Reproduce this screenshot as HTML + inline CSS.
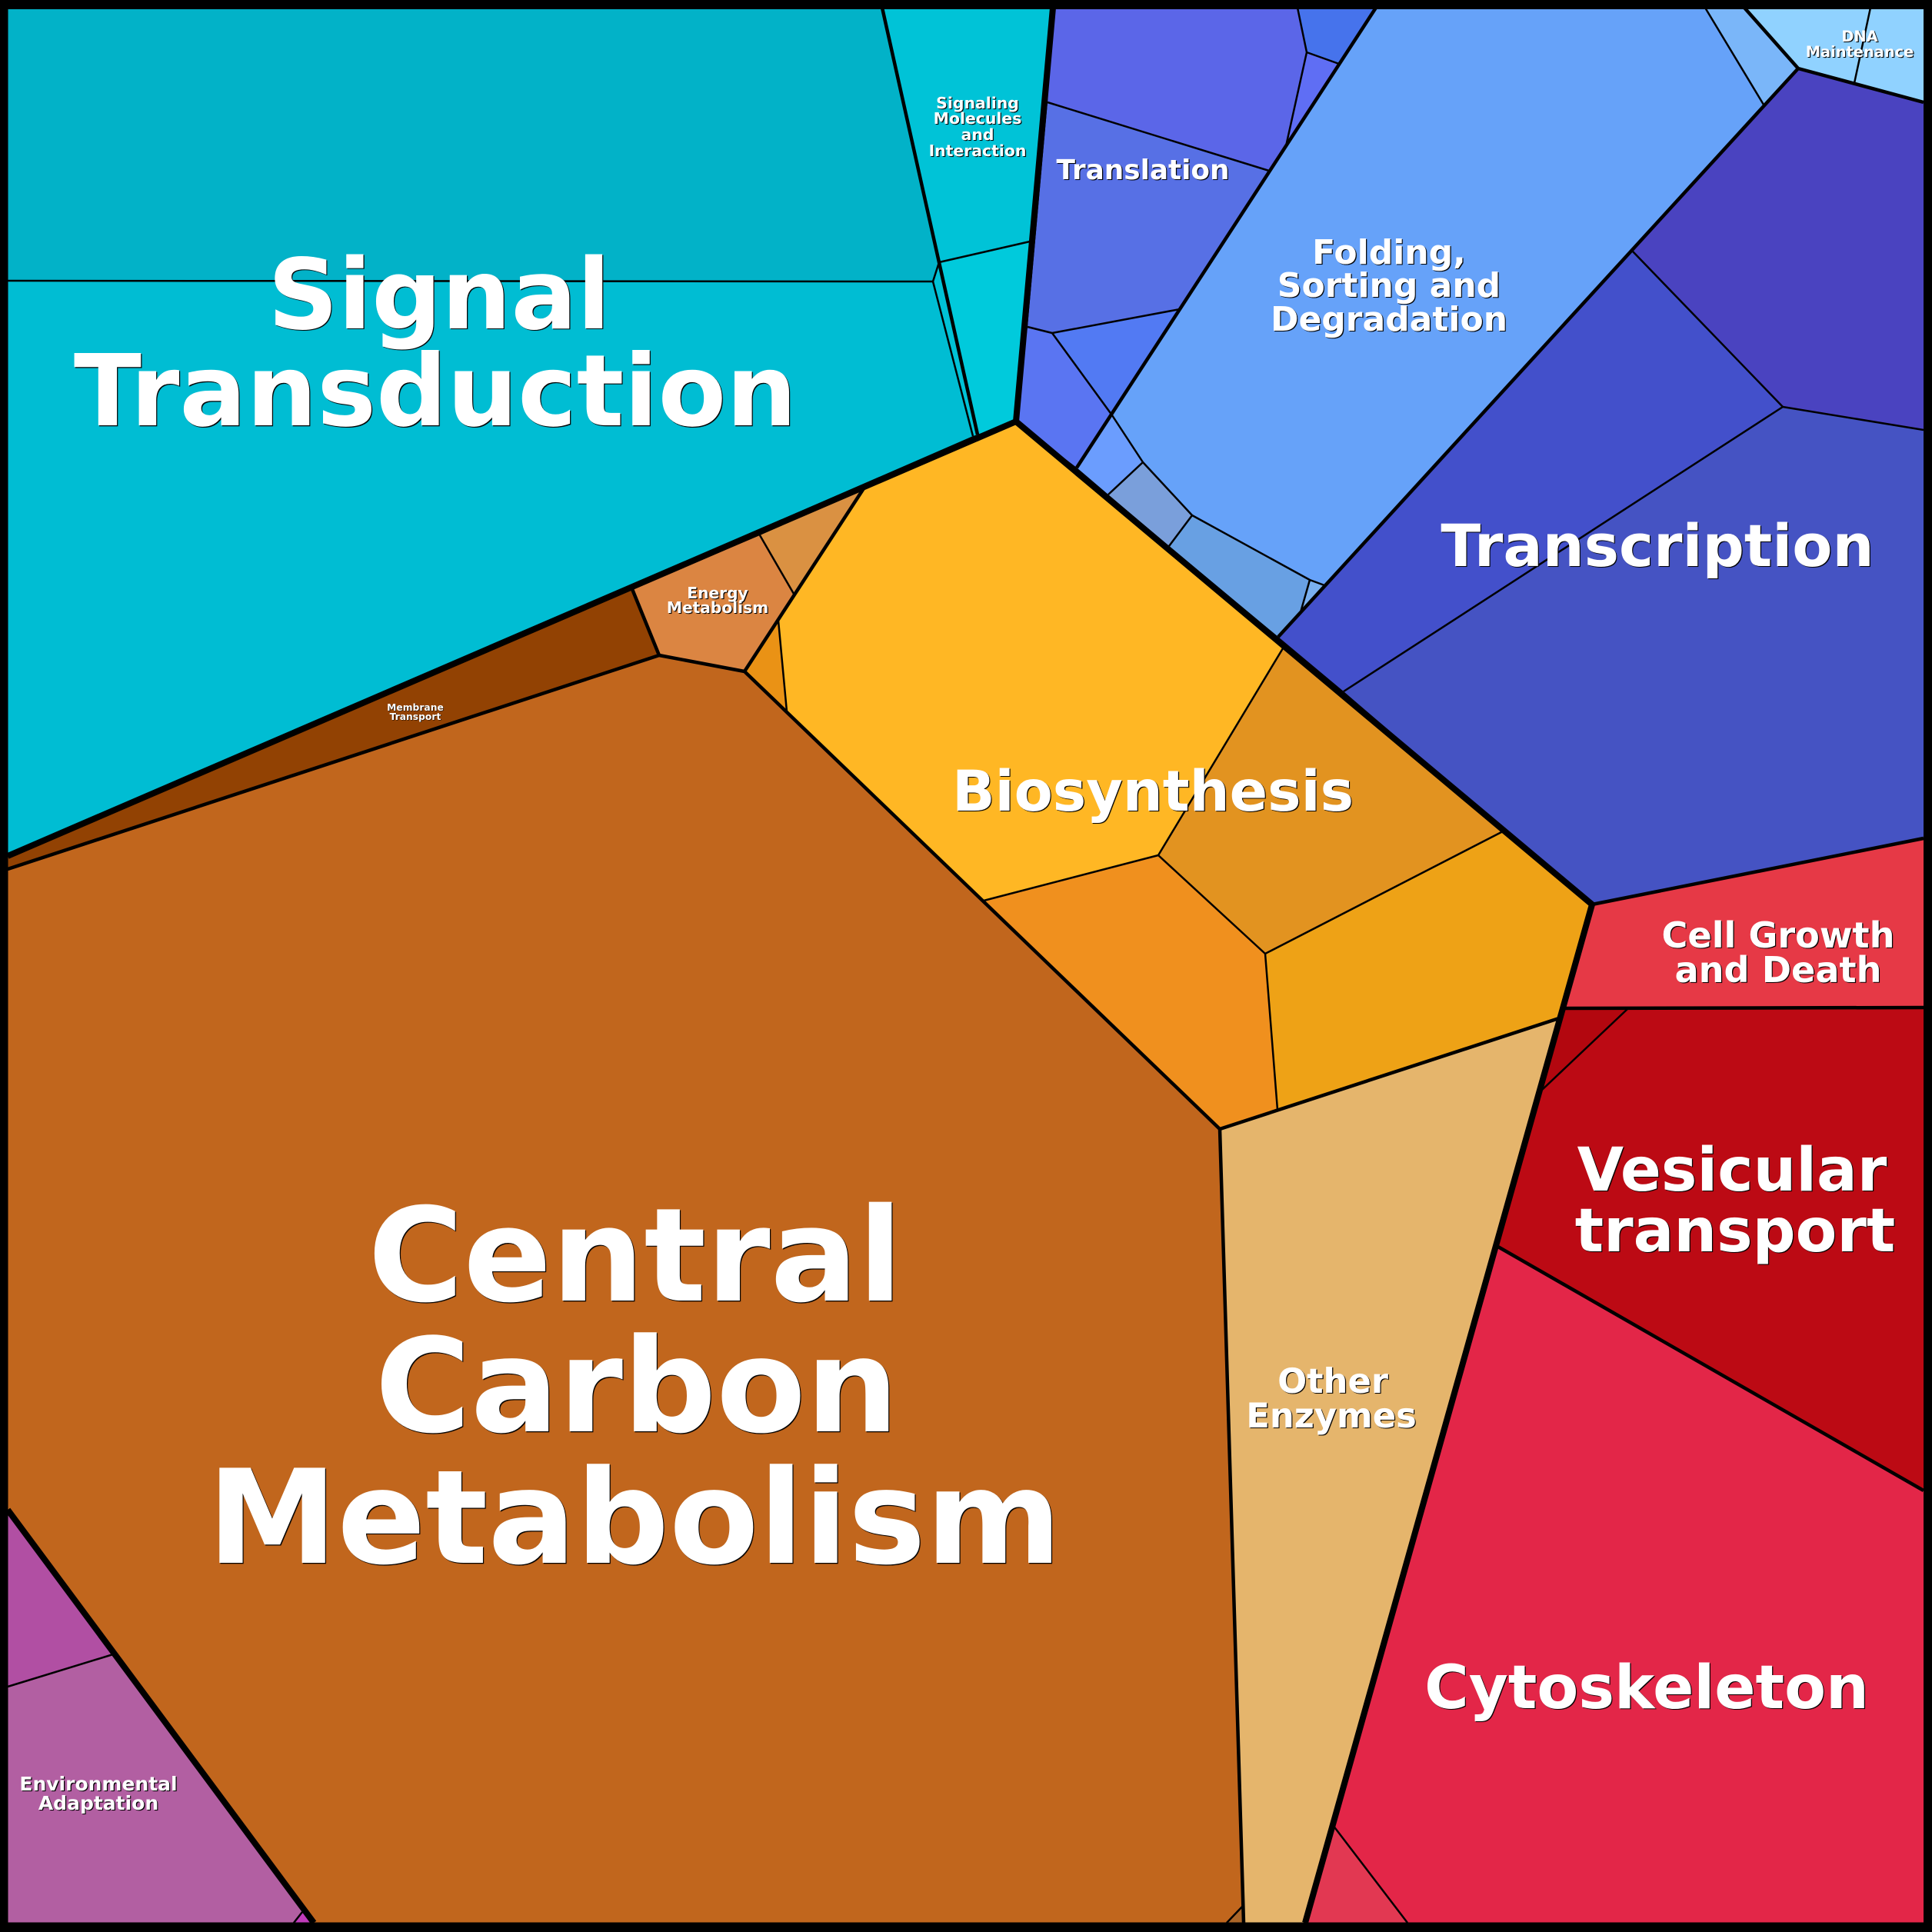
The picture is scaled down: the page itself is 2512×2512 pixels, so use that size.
<!DOCTYPE html>
<html><head><meta charset="utf-8"><style>
html,body{margin:0;padding:0;background:#000}
svg{display:block}
text{font-family:"DejaVu Sans","Liberation Sans",sans-serif;font-weight:700;fill:#fff;text-anchor:middle;text-shadow:1.2px 1.2px .5px #000}
.l3{fill:none;stroke:#000;stroke-width:2.5;stroke-linejoin:round}
.l2{fill:none;stroke:#000;stroke-width:4.5;stroke-linejoin:round}
.l1{fill:none;stroke:#000;stroke-width:8;stroke-linejoin:round}
</style></head><body>
<svg xmlns="http://www.w3.org/2000/svg" width="2512" height="2512" viewBox="0 0 2512 2512">
<rect width="2512" height="2512" fill="#000"/>
<!-- Signal Transduction -->
<polygon fill="#02B2C8" points="10,10 1147,10 1221,341 1213,366 10,365"/>
<polygon fill="#00BDD3" points="10,365 1213,366 1265,567 10,1113"/>
<polygon fill="#00C2D6" points="1221,341 1213,366 1265,567 1271,565"/>
<polygon fill="#00C3D7" points="1147,10 1369,10 1339,314 1221,341"/>
<polygon fill="#00CADC" points="1339,314 1221,341 1271,565 1321,548"/>
<!-- Metabolism -->
<polygon fill="#C1661D" points="10,1130 857,852 968,873 1586,1468 1617,2500 408,2500 10,1963"/>
<polygon fill="#AC6628" points="1617,2477 1617,2500 1595,2500"/>
<polygon fill="#924203" points="10,1113 822,766 857,852 10,1130"/>
<polygon fill="#DB8542" points="822,766 988,696 1032,772 968,873 857,852"/>
<polygon fill="#DA9142" points="988,696 1123,635 1032,772"/>
<polygon fill="#EA9215" points="968,873 1012,807 1023,925"/>
<polygon fill="#FFB724" points="1321,548 1123,635 1012,807 1023,925 1279,1171 1506,1112 1668,843"/>
<polygon fill="#E29320" points="1668,843 1506,1112 1645,1240 1954,1081"/>
<polygon fill="#F0901E" points="1279,1171 1506,1112 1645,1240 1661,1443 1586,1468"/>
<polygon fill="#EEA216" points="1954,1081 2070,1176 2030,1323 1661,1443 1645,1240"/>
<polygon fill="#E5B56C" points="1586,1468 2030,1323 1697,2500 1617,2500"/>
<!-- Genetic -->
<polygon fill="#5B66E8" points="1369,10 1687,10 1699,68 1672,190 1650,222 1362,133"/>
<polygon fill="#4673EC" points="1687,10 1789,10 1741,83 1699,68"/>
<polygon fill="#5F6EF4" points="1699,68 1741,83 1672,190"/>
<polygon fill="#5770E5" points="1362,133 1650,222 1534,402 1368,433 1336,425"/>
<polygon fill="#527AF3" points="1368,433 1534,402 1446,540"/>
<polygon fill="#5A75F2" points="1336,425 1368,433 1446,540 1400,608 1321,548"/>
<polygon fill="#66A2F9" points="1789,10 2217,10 2293,136 1722,761 1703,754 1550,670 1486,601 1446,540"/>
<polygon fill="#7AB6F9" points="2217,10 2268,10 2338,89 2293,136"/>
<polygon fill="#6B9DFE" points="1446,540 1486,601 1441,643 1400,608"/>
<polygon fill="#7A9FDB" points="1486,601 1550,670 1520,710 1441,643"/>
<polygon fill="#68A0E3" points="1550,670 1703,754 1691,796 1662,828 1520,710"/>
<polygon fill="#7AB0F0" points="1703,754 1722,761 1691,796"/>
<polygon fill="#4A43C0" points="2338,89 2501,133 2501,559 2318,529 2123,327"/>
<polygon fill="#4350CB" points="2123,327 2318,529 1747,899 1662,828"/>
<polygon fill="#4553C3" points="2318,529 2501,559 2501,1090 2070,1176 1747,899"/>
<polygon fill="#90D2FF" points="2268,10 2501,10 2501,133 2338,89"/>
<!-- Cell -->
<polygon fill="#E63946" points="2070,1176 2501,1090 2501,1310 2035,1311"/>
<polygon fill="#BC0A14" points="2035,1311 2501,1310 2501,1938 1946,1620"/>
<polygon fill="#B3070F" points="2035,1311 2117,1311 2005,1417"/>
<polygon fill="#E32648" points="1946,1620 2501,1938 2501,2500 1830,2500 1733,2373"/>
<polygon fill="#E23852" points="1733,2373 1830,2500 1697,2500"/>
<!-- Environmental -->
<polygon fill="#B14FA3" points="10,1963 147,2151 10,2193"/>
<polygon fill="#B25FA2" points="10,2193 147,2151 408,2500 10,2500"/>
<polygon fill="#C13CBB" points="393,2486 382,2500 405,2500"/>

<!-- fine lines -->
<path class="l3" d="M10,365 L1213,366 L1265,567 M1213,366 L1221,341 M1221,341 L1339,314
M1362,133 L1650,222 M1687,10 L1699,68 L1672,190 M1699,68 L1741,83 M1336,425 L1368,433 L1534,402 M1368,433 L1446,540
M1446,540 L1486,601 L1550,670 L1703,754 L1722,761 M1486,601 L1441,643 M1550,670 L1520,710 M1703,754 L1691,796 M2217,10 L2293,136
M2432,10 L2411,108 M2123,327 L2318,529 L2501,559 M2318,529 L1747,899
M988,696 L1032,772 M1012,807 L1023,925 M1668,843 L1506,1112 L1279,1171 M1506,1112 L1645,1240 L1954,1081 M1645,1240 L1661,1443
M1617,2477 L1595,2500 M2117,1311 L2005,1417 M1733,2373 L1830,2500 M10,2193 L147,2151 M393,2486 L382,2500"/>
<!-- second level -->
<path class="l2" d="M1147,10 L1271,565
M1789,10 L1400,608 M2338,89 L1662,828 M2268,10 L2338,89 L2501,133
M822,766 L857,852 L10,1130 M857,852 L968,873 L1586,1468 L1617,2500 M968,873 L1123,635 M1586,1468 L2030,1323
M2035,1311 L2501,1310 M1946,1620 L2501,1938 M2070,1176 L2501,1090"/>
<!-- top level -->
<path class="l1" d="M10,1113 L1321,548 L1369,10 M1321,548 L2070,1176 L1697,2500 M10,1963 L408,2500"/>
<rect x="5" y="5" width="2501.5" height="2500" fill="none" stroke="#000" stroke-width="11"/>
<rect x="0" y="0" width="2512" height="12" fill="#000"/>

<!-- labels -->
<text font-size="127" x="571" y="427">Signal</text>
<text font-size="129" x="566" y="553">Transduction</text>
<text font-size="169" x="826" y="1691">Central</text>
<text font-size="169.5" x="828" y="1861">Carbon</text>
<text font-size="169.5" x="825" y="2032">Metabolism</text>
<text font-size="73" x="1499" y="1054">Biosynthesis</text>
<text font-size="76" x="2155" y="736">Transcription</text>
<text font-size="78.5" x="2141" y="2221">Cytoskeleton</text>
<text font-size="78.2" x="2252" y="1548">Vesicular</text>
<text font-size="78.2" x="2256" y="1627">transport</text>
<text font-size="44" x="1806" y="343">Folding,</text>
<text font-size="44" x="1806" y="386">Sorting and</text>
<text font-size="44" x="1806" y="430">Degradation</text>
<text font-size="35.8" x="1486" y="233">Translation</text>
<text font-size="46.2" x="2312" y="1232">Cell Growth</text>
<text font-size="46.2" x="2312" y="1277">and Death</text>
<text font-size="44.8" x="1733" y="1811">Other</text>
<text font-size="44.8" x="1731" y="1856">Enzymes</text>
<text font-size="25" x="128" y="2328">Environmental</text>
<text font-size="25" x="128" y="2353">Adaptation</text>
<text font-size="20.4" x="1271" y="141">Signaling</text>
<text font-size="20.4" x="1271" y="161">Molecules</text>
<text font-size="20.4" x="1271" y="182">and</text>
<text font-size="20.4" x="1271" y="203">Interaction</text>
<text font-size="20.2" x="933" y="778">Energy</text>
<text font-size="20.2" x="933" y="797">Metabolism</text>
<text font-size="19.4" x="2418" y="54">DNA</text>
<text font-size="19.4" x="2418" y="74">Maintenance</text>
<text font-size="12.3" x="540" y="924" style="text-shadow:.7px .7px 0 #000">Membrane</text>
<text font-size="12.3" x="540" y="936" style="text-shadow:.7px .7px 0 #000">Transport</text>
</svg>
</body></html>
